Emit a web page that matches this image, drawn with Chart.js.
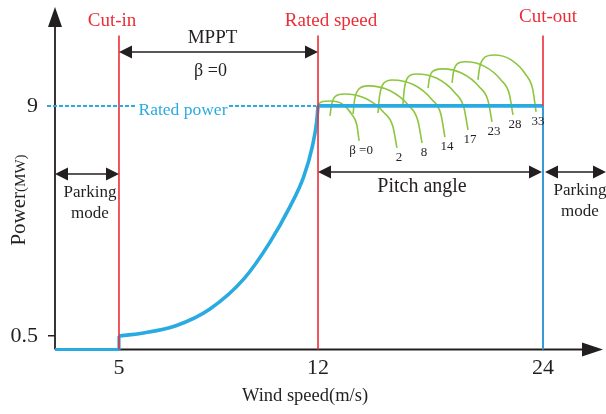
<!DOCTYPE html>
<html>
<head>
<meta charset="utf-8">
<script src="https://cdn.jsdelivr.net/npm/chart.js@4.4.1/dist/chart.umd.min.js"></script>
<style>
  html, body { margin: 0; padding: 0; background: #fff; }
</style>
</head>
<body>
<canvas id="chart" width="606" height="414"></canvas>
<script>
// Wind turbine power curve (schematic)
// --------------------------------------

const X_TICKS = [5, 12, 24];          // wind speed (m/s)
const Y_TICKS = [0.5, 9];             // power (MW)
const CUT_IN = 5, RATED_SPEED = 12, CUT_OUT = 24;
const RATED_POWER = 9;
const GUIDE_TOP = 11.6;               // top of the red guide lines

// parking mode below cut-in
const PARK_SPEED = [0, 5, 5];
const PARK_POWER = [0, 0, 0.5];

// MPPT part
const MPPT_SPEED = [5, 5.8, 7, 8.2, 9.4, 10.3, 11, 11.5, 11.8, 11.95, 12];
const MPPT_POWER = [0.5, 0.6, 0.88, 1.5, 2.62, 3.95, 5.25, 6.4, 7.5, 8.4, 9];

// rated part
const RATED_SPEED_PTS = [12, 24];
const RATED_POWER_PTS = [9, 9];

// pitch angle curves
const PITCH_LABELS = ["β =0", "2", "8", "14", "17", "23", "28", "33"];
const PITCH_SPEED = [
  [11.95, 12.02, 12.25, 12.69, 13.29, 13.81, 14.07, 14.19],
  [12.64, 12.72, 12.94, 13.39, 14.52, 15.51, 15.99, 16.21],
  [13.87, 13.95, 14.19, 14.67, 15.82, 16.83, 17.32, 17.55],
  [15.2, 15.28, 15.5, 15.95, 17.08, 18.07, 18.55, 18.77],
  [16.53, 16.6, 16.81, 17.23, 18.34, 19.31, 19.78, 20.0],
  [17.87, 17.94, 18.17, 18.61, 19.68, 20.61, 21.07, 21.28],
  [19.15, 19.22, 19.42, 19.84, 20.86, 21.76, 22.2, 22.4],
  [20.53, 20.62, 20.88, 21.39, 22.28, 23.07, 23.45, 23.63]
];
const PITCH_POWER = [
  [8.93, 9.05, 9.16, 9.18, 9.07, 8.68, 8.3, 7.71],
  [8.63, 9.04, 9.36, 9.44, 9.28, 8.76, 8.25, 7.45],
  [8.7, 9.22, 9.63, 9.74, 9.57, 9.02, 8.47, 7.63],
  [8.74, 9.35, 9.84, 9.96, 9.79, 9.24, 8.7, 7.85],
  [9.04, 9.61, 10.07, 10.18, 10.02, 9.48, 8.94, 8.11],
  [9.66, 10.02, 10.3, 10.37, 10.21, 9.7, 9.19, 8.41],
  [9.85, 10.24, 10.55, 10.63, 10.47, 9.96, 9.45, 8.67],
  [9.96, 10.42, 10.79, 10.88, 10.71, 10.17, 9.62, 8.78]
];

const SERIF = "'Liberation Serif', 'DejaVu Serif', serif";
const INK = "#231F20";
const BLUE = "#29ABE2";
const BLUE_DARK = "#3A9AD4";
const RED = "#EC2D36";
const GREEN = "#8DC63F";

// x axis of the original is not to scale: piecewise linear between breaks
const SCALE_BREAKS = [0, 5, 12, 24, 27];
const SCALE_FRACS = [0, 0.1174, 0.4826, 0.8954, 1];

class BrokenLinearScale extends Chart.LinearScale {
  static id = "brokenLinear";
  static defaults = Chart.LinearScale.defaults;

  _warp(v) {
    const k = SCALE_BREAKS, f = SCALE_FRACS;
    let i = 1;
    while (i < k.length - 1 && v > k[i]) i++;
    return f[i - 1] + (v - k[i - 1]) * (f[i] - f[i - 1]) / (k[i] - k[i - 1]);
  }
  _unwarp(d) {
    const k = SCALE_BREAKS, f = SCALE_FRACS;
    let i = 1;
    while (i < f.length - 1 && d > f[i]) i++;
    return k[i - 1] + (d - f[i - 1]) * (k[i] - k[i - 1]) / (f[i] - f[i - 1]);
  }
  getPixelForValue(v) {
    if (v === null || v === undefined) return NaN;
    return this.getPixelForDecimal(this._warp(v));
  }
  getValueForPixel(p) {
    return this._unwarp(this.getDecimalForPixel(p));
  }
}
Chart.register(BrokenLinearScale);

const pts = (xs, ys) => xs.map((x, i) => ({ x, y: ys[i] }));

function line(data, color, width, extra) {
  return Object.assign({
    data, borderColor: color, borderWidth: width, pointRadius: 0,
    fill: false, tension: 0, clip: false, borderCapStyle: "butt"
  }, extra || {});
}

// first dataset is painted last (on top)
const datasets = [
  line(pts([CUT_IN, CUT_IN], [0, GUIDE_TOP]), RED, 1.6),
  line(pts([RATED_SPEED, RATED_SPEED], [0, GUIDE_TOP]), RED, 1.6),
  line(pts([CUT_OUT, CUT_OUT], [RATED_POWER, GUIDE_TOP]), RED, 1.6),
  line(pts(PARK_SPEED, PARK_POWER), BLUE, 3.2),
  line(pts(MPPT_SPEED, MPPT_POWER), BLUE, 3.6, { cubicInterpolationMode: "monotone" }),
  line(pts(RATED_SPEED_PTS, RATED_POWER_PTS), BLUE, 3.6),
  line(pts([CUT_OUT, CUT_OUT], [RATED_POWER, 0]), BLUE_DARK, 2),
  ...PITCH_SPEED.map((xs, i) =>
    line(pts(xs, PITCH_POWER[i]), GREEN, 1.6, { cubicInterpolationMode: "monotone" }))
];

function arrowHead(ctx, x, y, dir) {
  const len = 13, half = 6.5;
  ctx.beginPath();
  ctx.moveTo(x, y);
  ctx.lineTo(x - dir * len, y - half);
  ctx.lineTo(x - dir * len, y + half);
  ctx.closePath();
  ctx.fill();
}

function doubleArrow(ctx, x1, x2, y) {
  ctx.beginPath();
  ctx.moveTo(x1 + 6, y);
  ctx.lineTo(x2 - 6, y);
  ctx.stroke();
  arrowHead(ctx, x1, y, -1);
  arrowHead(ctx, x2, y, 1);
}

function text(ctx, str, x, y, size, color) {
  ctx.font = size + "px " + SERIF;
  ctx.fillStyle = color || INK;
  ctx.textAlign = "center";
  ctx.textBaseline = "middle";
  ctx.fillText(str, x, y);
}

const overlay = {
  id: "overlay",
  beforeDatasetsDraw(chart) {
    const { ctx, chartArea: a } = chart;
    ctx.save();
    ctx.strokeStyle = INK;
    ctx.fillStyle = INK;
    ctx.lineWidth = 1.8;
    ctx.beginPath();
    ctx.moveTo(a.left, a.bottom);
    ctx.lineTo(a.left, 20);
    ctx.moveTo(a.left, a.bottom);
    ctx.lineTo(592, a.bottom);
    ctx.stroke();
    // axis arrows
    ctx.beginPath();
    ctx.moveTo(a.left, 7);
    ctx.lineTo(a.left - 7, 27);
    ctx.lineTo(a.left + 7, 27);
    ctx.closePath();
    ctx.fill();
    ctx.beginPath();
    ctx.moveTo(603, a.bottom);
    ctx.lineTo(582, a.bottom - 7);
    ctx.lineTo(582, a.bottom + 7);
    ctx.closePath();
    ctx.fill();
    ctx.restore();
  },
  afterDatasetsDraw(chart) {
    const { ctx, chartArea: a } = chart;
    const xs = chart.scales.x, ys = chart.scales.y;
    const xIn = xs.getPixelForValue(CUT_IN);
    const xRated = xs.getPixelForValue(RATED_SPEED);
    const xOut = xs.getPixelForValue(CUT_OUT);
    const yRated = ys.getPixelForValue(RATED_POWER);
    ctx.save();

    // rated power dashed line
    ctx.strokeStyle = BLUE;
    ctx.lineWidth = 2;
    ctx.setLineDash([4, 2]);
    ctx.beginPath();
    ctx.moveTo(47, yRated);
    ctx.lineTo(136, yRated);
    ctx.moveTo(229, yRated);
    ctx.lineTo(xRated - 2, yRated);
    ctx.stroke();
    ctx.setLineDash([]);
    text(ctx, "Rated power", 183, yRated + 4, 17.5, BLUE);

    // top labels
    text(ctx, "Cut-in", xIn - 7, 21, 19, RED);
    text(ctx, "Rated speed", xRated + 13, 21, 19, RED);
    text(ctx, "Cut-out", xOut + 5, 17, 19, RED);

    // arrows
    ctx.strokeStyle = INK;
    ctx.fillStyle = INK;
    ctx.lineWidth = 1.5;
    doubleArrow(ctx, xIn, xRated, 52);
    doubleArrow(ctx, a.left, xIn, 174);
    doubleArrow(ctx, xRated, xOut - 1, 172);
    doubleArrow(ctx, xOut + 2, 606, 172);

    text(ctx, "MPPT", (xIn + xRated) / 2 - 6, 38, 19);
    text(ctx, "β =0", (xIn + xRated) / 2 - 8, 71, 18);
    text(ctx, "Parking", 90, 193, 17);
    text(ctx, "mode", 90, 214, 17);
    text(ctx, "Pitch angle", 422, 187, 20);
    text(ctx, "Parking", 580, 191, 17);
    text(ctx, "mode", 580, 212, 17);

    // pitch angle labels under each curve end
    PITCH_SPEED.forEach((sp, i) => {
      const n = sp.length - 1;
      const px = xs.getPixelForValue(sp[n]);
      const py = ys.getPixelForValue(PITCH_POWER[i][n]);
      text(ctx, PITCH_LABELS[i], px + 2, py + 10, 13);
    });

    // axis titles
    text(ctx, "Wind speed(m/s)", 305, 396, 18.5);
    ctx.translate(25, 200);
    ctx.rotate(-Math.PI / 2);
    ctx.textBaseline = "alphabetic";
    ctx.textAlign = "left";
    ctx.font = "21px " + SERIF;
    const w1 = ctx.measureText("Power").width;
    ctx.font = "15px " + SERIF;
    const w2 = ctx.measureText("(MW)").width;
    const start = -(w1 + w2) / 2;
    ctx.fillStyle = INK;
    ctx.font = "21px " + SERIF;
    ctx.fillText("Power", start, 0);
    ctx.font = "15px " + SERIF;
    ctx.fillText("(MW)", start + w1, 0);
    ctx.restore();
  }
};

new Chart(document.getElementById("chart").getContext("2d"), {
  type: "line",
  data: { datasets },
  options: {
    responsive: false,
    animation: false,
    events: [],
    layout: { padding: { top: 12, right: 6, left: 0, bottom: 0 } },
    plugins: { legend: { display: false }, tooltip: { enabled: false } },
    scales: {
      x: {
        type: "brokenLinear",
        min: 0, max: 27,
        grid: { display: false },
        border: { display: false },
        ticks: { autoSkip: false, maxRotation: 0, padding: -2, color: INK,
                 font: { family: SERIF, size: 22 } },
        afterBuildTicks: s => { s.ticks = X_TICKS.map(v => ({ value: v })); },
        afterFit: s => { s.height = 64.5; s.paddingLeft = 0; s.paddingRight = 0; }
      },
      y: {
        min: 0, max: 12.47,
        grid: {
          drawOnChartArea: false, drawTicks: true, tickLength: 7, lineWidth: 1.5,
          tickColor: c => (c.tick && c.tick.value === RATED_POWER) ? "rgba(0,0,0,0)" : INK
        },
        border: { display: false },
        ticks: { padding: 10, color: INK, font: { family: SERIF, size: 22 },
                 callback: v => String(v) },
        afterBuildTicks: s => { s.ticks = Y_TICKS.map(v => ({ value: v })); },
        afterFit: s => { s.width = 55; s.paddingTop = 0; s.paddingBottom = 0; }
      }
    }
  },
  plugins: [overlay]
});
</script>
</body>
</html>
